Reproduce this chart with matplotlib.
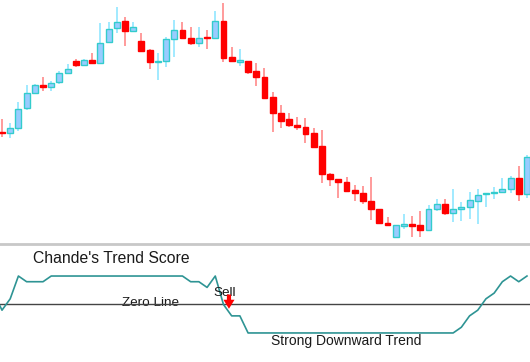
import matplotlib
matplotlib.use("Agg")
import matplotlib.pyplot as plt
from matplotlib.patches import Rectangle

plt.rcParams['font.family'] = ['Liberation Sans', 'DejaVu Sans']

# Candlestick data (arbitrary price units)
opens  = [118, 117, 122, 142, 157, 165, 163, 168, 177, 189, 185, 190, 187, 208, 222, 229, 219, 209, 200, 188,
          189, 211, 220, 212, 207, 213, 212, 229, 193, 188, 189, 179, 173, 153, 137, 131, 125, 123, 117, 104,
          76, 71, 68, 60, 57, 49, 41, 27, 13, 24, 26, 25, 20, 41, 46, 37, 41, 43, 49, 56,
          57, 58, 61, 72, 56]
highs  = [131, 127, 148, 165, 166, 173, 169, 179, 186, 191, 191, 197, 227, 228, 243, 233, 228, 217, 201, 197,
          213, 230, 228, 223, 223, 220, 239, 247, 203, 201, 189, 187, 182, 158, 145, 137, 133, 132, 122, 120,
          77, 71, 73, 65, 64, 73, 41, 33, 25, 36, 34, 39, 45, 51, 51, 61, 48, 58, 61, 57,
          63, 72, 74, 84, 95]
lows   = [113, 112, 119, 140, 156, 159, 159, 166, 176, 183, 184, 187, 187, 207, 217, 204, 218, 198, 181, 170,
          183, 193, 211, 205, 203, 201, 212, 188, 188, 184, 176, 164, 152, 118, 122, 123, 120, 107, 102, 67,
          64, 52, 58, 49, 46, 30, 26, 25, 12, 21, 13, 13, 19, 39, 35, 28, 29, 31, 26, 43,
          51, 57, 57, 49, 52]
closes = [117, 122, 141, 157, 165, 163, 167, 177, 181, 185, 190, 187, 207, 221, 228, 219, 223, 199, 188, 189,
          211, 220, 212, 207, 212, 212, 229, 192, 189, 190, 178, 173, 152, 137, 129, 125, 123, 116, 103, 76,
          71, 68, 59, 57, 49, 41, 27, 25, 25, 26, 24, 20, 41, 46, 37, 41, 43, 50, 55, 57,
          58, 61, 72, 56, 93]

# Chande's Trend Score (index 0 is one bar before the first visible candle)
score_idx = list(range(0, 66))
scores = [4, -2, 2, 10, 8, 8, 8, 10, 10, 10, 10, 10, 10, 10, 10, 10, 10, 10, 10, 10,
          10, 10, 10, 10, 8, 8, 6, 10, 0, -4, -4, -10, -10, -10, -10, -10, -10, -10, -10, -10,
          -10, -10, -10, -10, -10, -10, -10, -10, -10, -10, -10, -10, -10, -10, -10, -10, -10, -8, -4, -2,
          2, 4, 8, 10, 8, 10]

W, H = 530, 362
fig = plt.figure(figsize=(W / 100, H / 100), dpi=100)
fig.patch.set_facecolor('white')

sep = 243
ax1 = fig.add_axes([0, 1 - sep / H, 1, sep / H])
ax2 = fig.add_axes([0, 0, 1, (H - sep) / H])

xlim = (0.756, 65.37)

up_fill, up_edge, up_wick = '#99ccff', '#33cccc', '#88e4ff'
dn_fill, dn_edge, dn_wick = '#ff0000', '#ff0000', '#ff8080'
bw = 0.72
for i, (o, h, l, c) in enumerate(zip(opens, highs, lows, closes), start=1):
    up = c >= o
    wick = up_wick if up else dn_wick
    ax1.plot([i, i], [l, h], color=wick, lw=1.1, solid_capstyle='butt', zorder=1)
    lo, hi = min(o, c), max(o, c)
    hgt = max(hi - lo, 1.2)
    ax1.add_patch(Rectangle((i - bw / 2, lo), bw, hgt,
                            facecolor=up_fill if up else dn_fill,
                            edgecolor=up_edge if up else dn_edge,
                            lw=1.0, zorder=2))
ax1.set_xlim(*xlim)
ax1.set_ylim(7, 250)
ax1.axis('off')

ax2.plot(score_idx, scores, color='#2e9494', lw=1.2, zorder=3)
ax2.axhline(0, color='#444444', lw=1.0, zorder=2)
ax2.axhline(21.3, color='#c8c8c8', lw=2.0, zorder=2)
ax2.set_xlim(*xlim)
ax2.set_ylim(-20.2, 21.6)
ax2.axis('off')

ax2.text(4.78, 16, "Chande's Trend Score", fontsize=11.3, ha='left', va='center', color='#1a1a1a')
ax2.text(19.1, 0.5, "Zero Line", fontsize=9.7, ha='center', va='center', color='#1a1a1a', zorder=1)
ax2.text(28.12, 4.0, "Sell", fontsize=9.7, ha='center', va='center', color='#1a1a1a')
ax2.text(42.99, -12.8, "Strong Downward Trend", fontsize=10, ha='center', va='center', color='#1a1a1a')
ax2.annotate('', xy=(28.67, -1.5), xytext=(28.67, 3.5),
             arrowprops=dict(arrowstyle='simple,head_width=0.8,head_length=0.65,tail_width=0.3',
                             color='#ff0000', mutation_scale=10, lw=0, shrinkA=0, shrinkB=0), zorder=5)

fig.savefig('out.png', dpi=100, facecolor='white')
